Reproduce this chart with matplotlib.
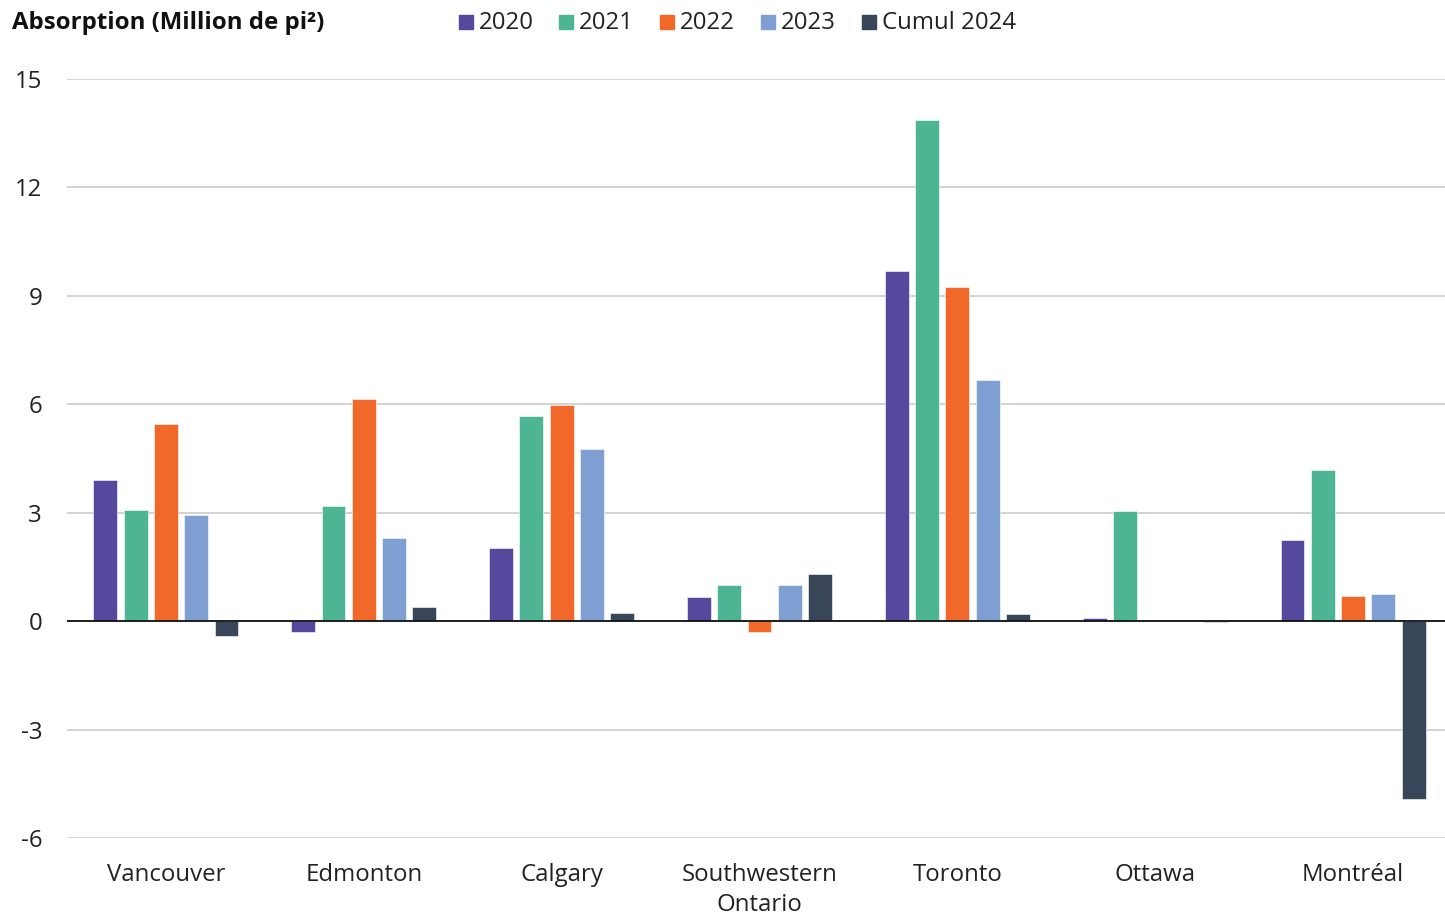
import numpy as np
import matplotlib
matplotlib.use("Agg")
import matplotlib.pyplot as plt
from matplotlib.patches import Rectangle

plt.rcParams['font.family'] = ['Open Sans', 'DejaVu Sans']

markets = ["Vancouver", "Edmonton", "Calgary", "Southwestern\nOntario",
           "Toronto", "Ottawa", "Montréal"]
series_names = ["2020", "2021", "2022", "2023", "Cumul 2024"]
v2020 = [3.90, -0.30, 2.02, 0.66, 9.69, 0.08, 2.24]
v2021 = [3.07, 3.18, 5.67, 1.00, 13.87, 3.04, 4.18]
v2022 = [5.45, 6.14, 5.98, -0.30, 9.24, 0.03, 0.69]
v2023 = [2.93, 2.30, 4.76, 1.00, 6.67, 0.02, 0.75]
v2024 = [-0.42, 0.39, 0.22, 1.30, 0.19, -0.03, -4.93]
colors = ["#55499E", "#4DB593", "#F0682A", "#7F9FD3", "#394558"]
yticks = [-6, -3, 0, 3, 6, 9, 12, 15]

W, H = 1445, 916
FS = 17.3
fig = plt.figure(figsize=(W / 100, H / 100), dpi=100)
ax = fig.add_axes([67 / W, 1 - 838 / H, (1452 - 67) / W, (838 - 79) / H])

x = np.arange(len(markets))
step = 0.153
width = 0.121
for i, (vals, col) in enumerate(zip([v2020, v2021, v2022, v2023, v2024], colors)):
    ax.bar(x + (i - 2) * step, vals, width=width, color=col, zorder=3,
           edgecolor="white", linewidth=0.4)

ax.set_xlim(-0.5, len(markets) - 0.5)
ax.set_ylim(-6, 15)
ax.set_yticks(yticks)
ax.set_yticklabels([str(t) for t in yticks], fontsize=FS, color="#222222")
ax.set_xticks(x)
ax.set_xticklabels(markets, fontsize=FS, color="#222222", linespacing=1.32)
ax.tick_params(axis="both", length=0)
ax.tick_params(axis="y", pad=18)
ax.tick_params(axis="x", pad=18)
ax.grid(axis="y", color="#D0D0D0", linewidth=1.3, zorder=0)
ax.axhline(0, color="#111111", linewidth=1.3, zorder=4)
for s in ax.spines.values():
    s.set_visible(False)

fig.text(12 / W, 1 - 23 / H, "Absorption (Million de pi²)", fontsize=FS,
         fontweight="bold", va="center", ha="left", color="#111111")

# legend row
lx = [459, 559, 660, 761, 862]
for px, name, col in zip(lx, series_names, colors):
    fig.patches.append(Rectangle((px / W, 1 - 29 / H), 14 / W, 14 / H,
                                 transform=fig.transFigure, color=col))
    fig.text((px + 20) / W, 1 - 23 / H, name, fontsize=FS, va="center",
             ha="left", color="#222222")

fig.savefig("out.png", dpi=100)
